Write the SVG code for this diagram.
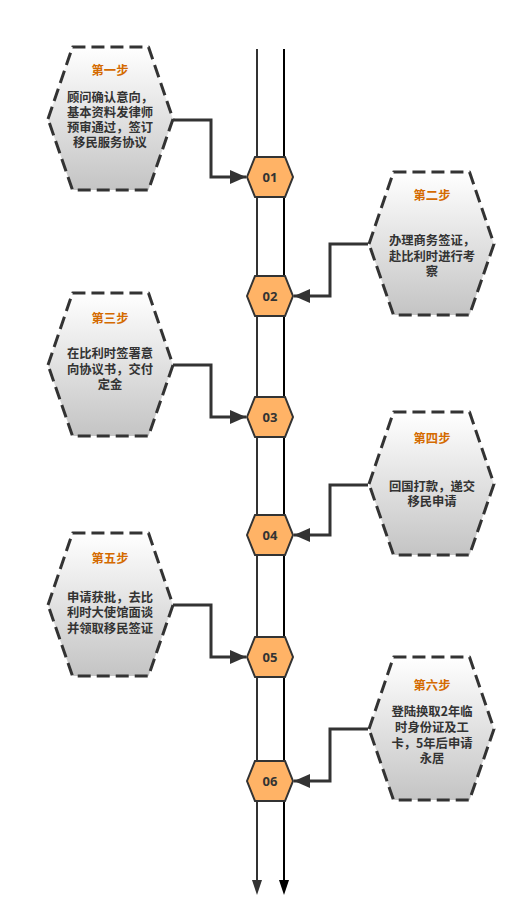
<svg xmlns="http://www.w3.org/2000/svg" width="527" height="924" viewBox="0 0 527 924">
<defs>
<linearGradient id="g" x1="0" y1="0" x2="0" y2="1">
<stop offset="0" stop-color="#ffffff"/>
<stop offset="1" stop-color="#c4c4c4"/>
</linearGradient>
<path id="big" d="M-62.5,0 L-38,-72 L38,-72 L62.5,0 L38,71 L-38,71 Z"/>
<path id="small" d="M-23,0 L-15,-20 L15,-20 L23,0 L15,20 L-15,20 Z"/>
<marker id="ah" viewBox="0 0 16 14" refX="16" refY="7" markerWidth="16" markerHeight="14" markerUnits="userSpaceOnUse" orient="auto">
<path d="M0,0 L16,7 L0,14 Z" fill="#333"/>
</marker>
</defs>
<style>
.bh{fill:url(#g);stroke:#333;stroke-width:3;stroke-dasharray:13 6;stroke-linejoin:round}
.sh{fill:#FFB366;stroke:#333;stroke-width:2}
.t{font-family:"Noto Sans CJK SC","Noto Sans",sans-serif;font-size:12.3px;font-weight:bold;text-anchor:middle}
.ti{fill:#D46A00}
.tx{fill:#333}
.num{font-family:"Noto Sans","Open Sans",sans-serif;font-size:13px;font-weight:bold;fill:#333;text-anchor:middle}
.c{fill:none;stroke:#333;stroke-width:3;marker-end:url(#ah)}
</style>
<rect width="527" height="924" fill="#fff"/>
<g id="axis">
<line x1="257" y1="49" x2="257" y2="882" stroke="#333" stroke-width="2"/>
<path d="M252,880 L262,880 L257,895 Z" fill="#333"/>
<line x1="284" y1="49" x2="284" y2="882" stroke="#000" stroke-width="2"/>
<path d="M279,880 L289,880 L284,895 Z" fill="#000"/>
</g>
<g id="connectors">
<path class="c" d="M173,120 H211 V177 H246"/>
<path class="c" d="M368,244 H330 V296 H294"/>
<path class="c" d="M173,365 H211 V417 H246"/>
<path class="c" d="M368,485 H330 V535 H294"/>
<path class="c" d="M173,605 H211 V657 H246"/>
<path class="c" d="M368,729 H330 V781 H294"/>
</g>
<g id="n01"><use href="#small" class="sh" transform="translate(270,177)"/><text class="num" x="270" y="182">01</text></g>
<g id="n02"><use href="#small" class="sh" transform="translate(270,296)"/><text class="num" x="270" y="301">02</text></g>
<g id="n03"><use href="#small" class="sh" transform="translate(270,417)"/><text class="num" x="270" y="422">03</text></g>
<g id="n04"><use href="#small" class="sh" transform="translate(270,535)"/><text class="num" x="270" y="540">04</text></g>
<g id="n05"><use href="#small" class="sh" transform="translate(270,657)"/><text class="num" x="270" y="662">05</text></g>
<g id="n06"><use href="#small" class="sh" transform="translate(270,781)"/><text class="num" x="270" y="786">06</text></g>
<g id="step1">
<use href="#big" class="bh" transform="translate(110.5,119)"/>
<text class="t ti" x="110" y="74.5">第一步</text>
<text class="t tx" x="110" y="101.5">顾问确认意向，<tspan x="110" dy="15">基本资料发律师</tspan><tspan x="110" dy="15.3">预审通过，签订</tspan><tspan x="110" dy="15.3">移民服务协议</tspan></text>
</g>
<g id="step2">
<use href="#big" class="bh" transform="translate(431.5,244)"/>
<text class="t ti" x="432" y="199.5">第二步</text>
<text class="t tx" x="432" y="244.5">办理商务签证，<tspan x="432" dy="16">赴比利时进行考</tspan><tspan x="432" dy="15.5">察</tspan></text>
</g>
<g id="step3">
<use href="#big" class="bh" transform="translate(110.5,365)"/>
<text class="t ti" x="110" y="322.5">第三步</text>
<text class="t tx" x="110" y="357.5">在比利时签署意<tspan x="110" dy="16">向协议书，交付</tspan><tspan x="110" dy="15.5">定金</tspan></text>
</g>
<g id="step4">
<use href="#big" class="bh" transform="translate(431.5,484)"/>
<text class="t ti" x="432" y="442.5">第四步</text>
<text class="t tx" x="432" y="490.5">回国打款，递交<tspan x="432" dy="15.5">移民申请</tspan></text>
</g>
<g id="step5">
<use href="#big" class="bh" transform="translate(110.5,605)"/>
<text class="t ti" x="110" y="562.5">第五步</text>
<text class="t tx" x="110" y="601.5">申请获批，去比<tspan x="110" dy="15.5">利时大使馆面谈</tspan><tspan x="110" dy="16">并领取移民签证</tspan></text>
</g>
<g id="step6">
<use href="#big" class="bh" transform="translate(431.5,729)"/>
<text class="t ti" x="432" y="689.5">第六步</text>
<text class="t tx" x="432" y="715.5">登陆换取2年临<tspan x="432" dy="16">时身份证及工</tspan><tspan x="432" dy="16.5">卡，5年后申请</tspan><tspan x="432" dy="15">永居</tspan></text>
</g>
</svg>
